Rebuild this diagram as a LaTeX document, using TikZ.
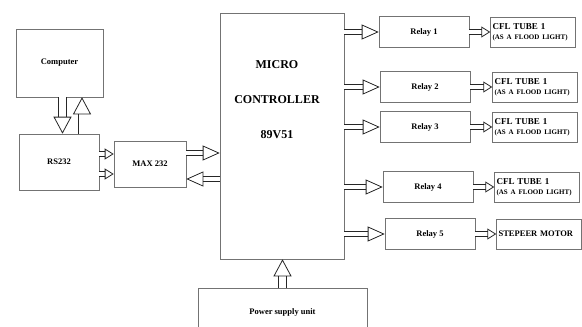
\documentclass[tikz,border=0pt]{standalone}
\usepackage{fontspec}
\setmainfont{Liberation Serif}
\usetikzlibrary{positioning, arrows.meta}

\newcommand{\lampfont}{\fontsize{9}{10}\selectfont}
\newcommand{\subfont}{\fontsize{7}{8}\selectfont}

\begin{document}
\begin{tikzpicture}[
  x=1pt, y=-1pt,
  font=\bfseries\fontsize{8.5}{10}\selectfont,
  box/.style={draw=black!55, line width=0.6pt, inner sep=1pt, align=center},
  relay/.style={box, minimum width=90pt, minimum height=31pt},
  lamp/.style={box, minimum width=85pt, minimum height=30pt, text width=81pt,
    align=left, inner sep=2pt},
  blk/.style={draw=black!85, line width=0.8pt, double=white, double distance=4.5pt,
    -{Triangle[open, length=17pt, width=15pt]}},
  blksm/.style={blk, double distance=3.5pt, -{Triangle[open, length=9pt, width=11pt]}},
  blkv/.style={blk, double distance=7pt, -{Triangle[open, length=17pt, width=18pt]}},
]
  \clip (0,0) rectangle (582,327);

  % left side
  \node[box, minimum width=87pt, minimum height=68pt] (comp) at (59.5,63) {Computer};
  \node[box, minimum width=80pt, minimum height=56pt] (rs) at (59,162) {RS232};
  \node[box, minimum width=72pt, minimum height=46pt] (max) at (150,164) {MAX 232};

  % controller and supply
  \node[box, minimum width=124pt, minimum height=246pt] (micro) at (282,136) {};
  \node[font=\bfseries\fontsize{12}{35}\selectfont, align=center] (microtxt) at (277,100)
    {MICRO\\CONTROLLER\\89V51};
  \node[box, minimum width=169pt, minimum height=48pt] (power) at (282.5,312)
    {Power supply unit};

  % relays and loads
  \node[relay] (r1) at (424,32) {Relay 1};
  \node[relay] (r2) at (425,87) {Relay 2};
  \node[relay] (r3) at (425,127) {Relay 3};
  \node[relay] (r4) at (428,187) {Relay 4};
  \node[relay] (r5) at (430,234) {Relay 5};

  \node[lamp, right=21pt of r1] (c1) {\lampfont CFL TUBE 1\\{\subfont(AS A FLOOD LIGHT)}};
  \node[lamp, right=22pt of r2] (c2) {\lampfont CFL TUBE 1\\{\subfont(AS A FLOOD LIGHT)}};
  \node[lamp, right=22pt of r3] (c3) {\lampfont CFL TUBE 1\\{\subfont(AS A FLOOD LIGHT)}};
  \node[lamp, right=21pt of r4] (c4) {\lampfont CFL TUBE 1\\{\subfont(AS A FLOOD LIGHT)}};
  \node[lamp, right=21pt of r5] (c5) {STEPEER MOTOR};

  % connectors
  \draw[blkv] ([xshift=3pt]comp.south) -- ([xshift=3pt]comp.south |- rs.north);
  \draw[blkv] ([xshift=23pt]rs.north) -- ([xshift=23pt]rs.north |- comp.south);
  \draw[blksm] ([yshift=8pt]rs.east) -- ([yshift=8pt]rs.east -| max.west);
  \draw[blksm] ([yshift=-12pt]rs.east) -- ([yshift=-12pt]rs.east -| max.west);
  \draw[blk] ([yshift=11pt]max.east) -- ([yshift=11pt]max.east -| micro.west);
  \draw[blk] ([yshift=-15pt]max.east -| micro.west) -- ([yshift=-15pt]max.east);
  \draw[blkv] (power.north) -- (power.north |- micro.south);
  \foreach \r in {r1, r2, r3, r4, r5} \draw[blk] (micro.east |- \r) -- (\r);
  \foreach \r/\c in {r1/c1, r2/c2, r3/c3, r4/c4, r5/c5} \draw[blksm] (\r) -- (\c);
\end{tikzpicture}
\end{document}
